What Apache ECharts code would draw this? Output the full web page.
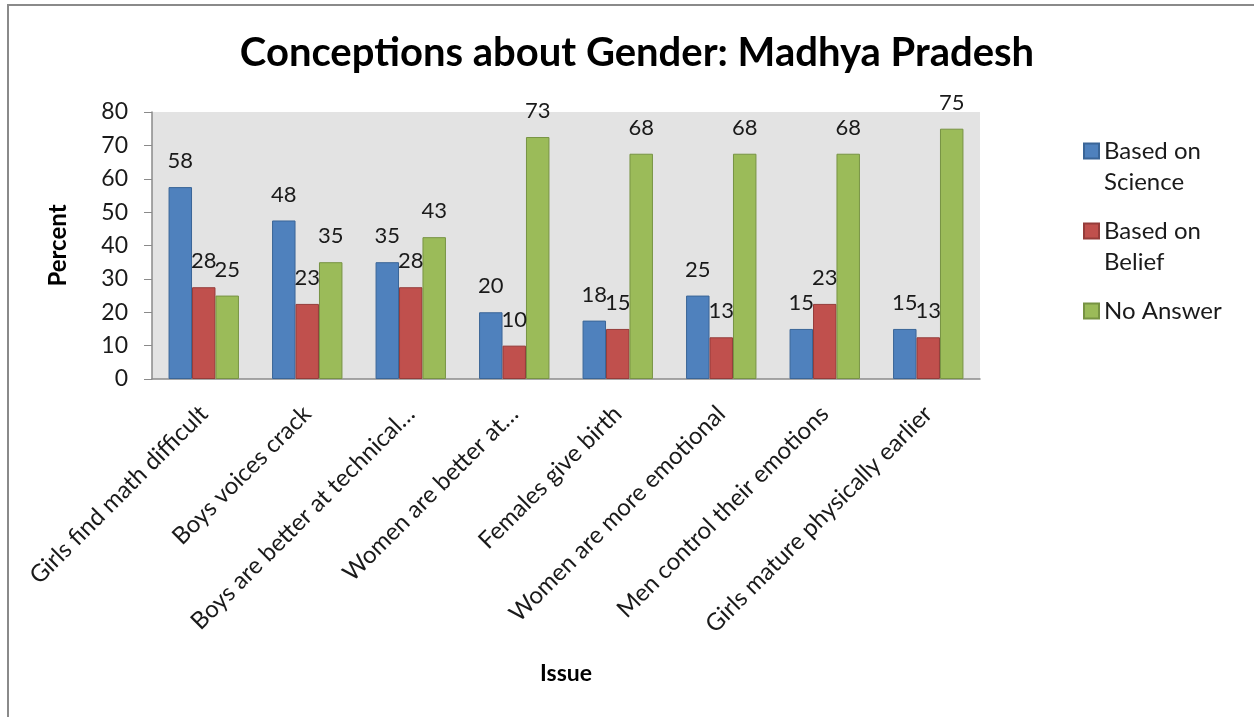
<!DOCTYPE html>
<html>
<head>
<meta charset="utf-8">
<script src="https://cdn.jsdelivr.net/npm/echarts@6/dist/echarts.min.js"></script>
<style>
  html, body { margin: 0; padding: 0; background: #fff; overflow: hidden; }
  #frame { position: absolute; left: 7px; top: 4px; width: 1260px; height: 730px; border: 2px solid #8a8a8a; box-sizing: border-box; }
  #chart { position: absolute; left: 0; top: 0; width: 1254px; height: 717px; }
</style>
</head>
<body>
<div id="frame"></div>
<div id="chart"></div>
<script>
// categories (long ones are cut off in the original)
const issues = [
  'Girls find math difficult',
  'Boys voices crack',
  'Boys are better at technical…',
  'Women are better at…',
  'Females give birth',
  'Women are more emotional',
  'Men control their emotions',
  'Girls mature physically earlier'
];

const basedOnScience = [57.5, 47.5, 35, 20, 17.5, 25, 15, 15];
const basedOnBelief = [27.5, 22.5, 27.5, 10, 15, 12.5, 22.5, 12.5];
const noAnswer = [25, 35, 42.5, 72.5, 67.5, 67.5, 67.5, 75];

const seriesNames = ['Based on Science', 'Based on Belief', 'No Answer'];
const FONT = 'Lato';
const LINE = 31;

const myChart = echarts.init(document.getElementById('chart'));

function barSeries(name, data, color, border) {
  return {
    name: name,
    type: 'bar',
    data: data,
    barGap: '0%',
    barCategoryGap: '32%',
    itemStyle: { color: color, borderColor: border, borderWidth: 1 },
    label: {
      show: true,
      position: 'top',
      distance: 15,
      color: '#1a1a1a',
      fontFamily: FONT,
      fontSize: 22,
      formatter: p => Math.round(p.value)
    }
  };
}

// one legend per entry so the key box sits on the first text line, like Excel
// (an empty first line pushes the wrapped text down so the key lines up with "Based on")
const legendTops = [104.5, 184.5, 295.5];
const legends = seriesNames.map((name, i) => ({
  orient: 'vertical',
  left: 1083,
  top: legendTops[i],
  padding: 0,
  itemWidth: 15,
  itemHeight: 15,
  icon: 'rect',
  formatter: n => n === 'No Answer' ? n : '\n' + n.replace('on ', 'on\n'),
  textStyle: { fontFamily: FONT, fontSize: 24, color: '#1a1a1a', lineHeight: LINE },
  data: [name]
}));

const option = {
  animation: false,
  title: {
    text: 'Conceptions about Gender: Madhya Pradesh',
    left: 632,
    top: 28,
    textAlign: 'center',
    textStyle: { fontFamily: FONT, fontWeight: 'bold', fontSize: 40, color: '#000' }
  },
  legend: legends,
  grid: {
    left: 152,
    right: 274,
    top: 112,
    bottom: 338,
    show: true,
    backgroundColor: '#e3e3e3',
    borderWidth: 0
  },
  xAxis: {
    type: 'category',
    data: issues,
    name: 'Issue',
    nameLocation: 'middle',
    nameGap: 283,
    nameTextStyle: { fontFamily: FONT, fontWeight: 'bold', fontSize: 23, color: '#000' },
    axisLine: { lineStyle: { color: '#8a8a8a', width: 1.5 } },
    axisTick: { show: false },
    axisLabel: {
      rotate: 45,
      interval: 0,
      margin: 31,
      fontFamily: FONT,
      fontSize: 24,
      color: '#1a1a1a'
    }
  },
  yAxis: {
    type: 'value',
    min: 0,
    max: 80,
    interval: 10,
    name: 'Percent',
    nameLocation: 'middle',
    nameGap: 82,
    nameTextStyle: { fontFamily: FONT, fontWeight: 'bold', fontSize: 24, color: '#000' },
    axisLine: { show: true, lineStyle: { color: '#8a8a8a', width: 1.5 } },
    axisTick: { show: true, length: 8, lineStyle: { color: '#8a8a8a' } },
    splitLine: { show: false },
    axisLabel: { margin: 24, fontFamily: FONT, fontSize: 23, color: '#1a1a1a' }
  },
  series: [
    barSeries(seriesNames[0], basedOnScience, '#4f81bd', '#3a6597'),
    barSeries(seriesNames[1], basedOnBelief, '#c0504d', '#953c3a'),
    barSeries(seriesNames[2], noAnswer, '#9bbb59', '#779343')
  ]
};

myChart.setOption(option);
</script>
</body>
</html>
